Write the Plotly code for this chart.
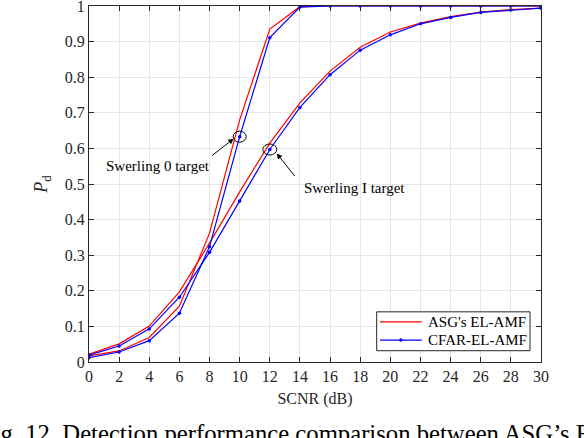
import plotly.graph_objects as go

# SCNR axis (dB)
snr = [0, 2, 4, 6, 8, 10, 12, 14, 16, 18, 20, 22, 24, 26, 28, 30]

# Swerling 0 target
asg_sw0 = [0.017, 0.031, 0.069, 0.157, 0.362, 0.680, 0.935, 0.998,
           1.0, 1.0, 1.0, 1.0, 1.0, 1.0, 1.0, 1.0]
cfar_sw0 = [0.012, 0.028, 0.060, 0.137, 0.324, 0.633, 0.911, 0.997,
            1.0, 1.0, 1.0, 1.0, 1.0, 1.0, 1.0, 1.0]

# Swerling I target
asg_sw1 = [0.022, 0.051, 0.101, 0.197, 0.334, 0.478, 0.615, 0.728,
           0.817, 0.884, 0.927, 0.952, 0.970, 0.983, 0.990, 0.994]
cfar_sw1 = [0.019, 0.045, 0.093, 0.182, 0.308, 0.452, 0.597, 0.715,
            0.807, 0.876, 0.919, 0.950, 0.968, 0.982, 0.989, 0.994]

legend_names = ["ASG's EL-AMF", "CFAR-EL-AMF"]

FONT = "Liberation Serif"
RED = "#ff0000"
BLUE = "#0000ff"
AXC = "#262626"

fig = go.Figure()

fig.add_trace(go.Scatter(x=snr, y=asg_sw0, mode="lines", name=legend_names[0],
                         line=dict(color=RED, width=1.2)))
fig.add_trace(go.Scatter(x=snr, y=asg_sw1, mode="lines", name=legend_names[0],
                         line=dict(color=RED, width=1.2)))
fig.add_trace(go.Scatter(x=snr, y=cfar_sw0, mode="lines+markers", name=legend_names[1],
                         line=dict(color=BLUE, width=1.2),
                         marker=dict(color=BLUE, size=3.5)))
fig.add_trace(go.Scatter(x=snr, y=cfar_sw1, mode="lines+markers", name=legend_names[1],
                         line=dict(color=BLUE, width=1.2),
                         marker=dict(color=BLUE, size=3.5)))

# circles marking the labelled curves
i0 = snr.index(10)
i1 = snr.index(12)
for xc, yc, rx, ry in [(snr[i0], cfar_sw0[i0], 6.5, 5.5), (snr[i1], cfar_sw1[i1], 7, 5.5)]:
    fig.add_shape(type="circle", xref="x", yref="y",
                  xsizemode="pixel", ysizemode="pixel",
                  xanchor=xc, yanchor=yc,
                  x0=-rx, x1=rx, y0=-ry, y1=ry,
                  line=dict(color="black", width=1))

# arrows
fig.add_annotation(x=snr[i0], y=cfar_sw0[i0], xref="x", yref="y", text="",
                   showarrow=True, arrowhead=2, arrowsize=1.1, arrowwidth=1,
                   arrowcolor="black", xshift=-6, yshift=-2, ax=-23, ay=18)
fig.add_annotation(x=snr[i1], y=cfar_sw1[i1], xref="x", yref="y", text="",
                   showarrow=True, arrowhead=2, arrowsize=1.1, arrowwidth=1,
                   arrowcolor="black", xshift=7, yshift=-4, ax=19, ay=24)

# labels
fig.add_annotation(x=4.55, y=0.551, xref="x", yref="y", text="Swerling 0 target",
                   showarrow=False, font=dict(family=FONT, size=15, color="black"))
fig.add_annotation(x=17.6, y=0.49, xref="x", yref="y", text="Swerling I target",
                   showarrow=False, font=dict(family=FONT, size=15, color="black"))

# compact legend box, MATLAB style
fig.add_shape(type="rect", xref="paper", yref="paper",
              x0=0.6365, x1=0.9757, y0=0.0317, y1=0.1409,
              fillcolor="white", line=dict(color=AXC, width=1), layer="above")
for name, color, ypos, dot in [(legend_names[0], RED, 0.1129, False),
                               (legend_names[1], BLUE, 0.0616, True)]:
    fig.add_shape(type="line", xref="paper", yref="paper",
                  x0=0.6438, x1=0.7361, y0=ypos, y1=ypos,
                  line=dict(color=color, width=1.2), layer="above")
    if dot:
        fig.add_shape(type="circle", xref="paper", yref="paper",
                      xsizemode="pixel", ysizemode="pixel",
                      xanchor=0.69, yanchor=ypos, x0=-1.7, x1=1.7, y0=-1.7, y1=1.7,
                      fillcolor=color, line=dict(color=color, width=0), layer="above")
    fig.add_annotation(x=0.7456, y=ypos, xref="paper", yref="paper",
                       xanchor="left", yanchor="middle", showarrow=False, text=name,
                       font=dict(family=FONT, size=15, color="black"))

# figure caption (cut off by the page edge)
fig.add_annotation(x=-0.246, y=-0.1564, xref="paper", yref="paper",
                   xanchor="left", yanchor="top", showarrow=False,
                   text="Fig. 12. Detection performance comparison between ASG\u2019s EL-AMF and CFAR-EL-AMF.",
                   font=dict(family=FONT, size=24.7, color="black"))

fig.update_xaxes(range=[0, 30], dtick=2, tick0=0, automargin=False,
                 title=dict(text="SCNR (dB)", font=dict(family=FONT, size=16, color=AXC), standoff=8),
                 showline=True, linecolor=AXC, linewidth=1, mirror="ticks",
                 ticks="inside", ticklen=5, tickcolor=AXC,
                 showgrid=True, gridcolor="#e6e6e6", gridwidth=1, zeroline=False,
                 ticklabeloverflow="allow",
                 tickfont=dict(family=FONT, size=16, color=AXC))
fig.update_yaxes(range=[0, 1], dtick=0.1, tick0=0, automargin=False,
                 title=dict(text="<i>P</i><sub>d</sub>", font=dict(family=FONT, size=18, color=AXC), standoff=12),
                 showline=True, linecolor=AXC, linewidth=1, mirror="ticks",
                 ticks="inside", ticklen=5, tickcolor=AXC,
                 showgrid=True, gridcolor="#e6e6e6", gridwidth=1, zeroline=False,
                 ticklabeloverflow="allow",
                 tickfont=dict(family=FONT, size=16, color=AXC))

fig.update_layout(
    width=584, height=438,
    margin=dict(l=89, r=43, t=6, b=76),
    plot_bgcolor="white", paper_bgcolor="white",
    showlegend=False,
)

fig.write_html("out.html", config={"displayModeBar": False},
               post_script="document.body.style.margin='0';")
